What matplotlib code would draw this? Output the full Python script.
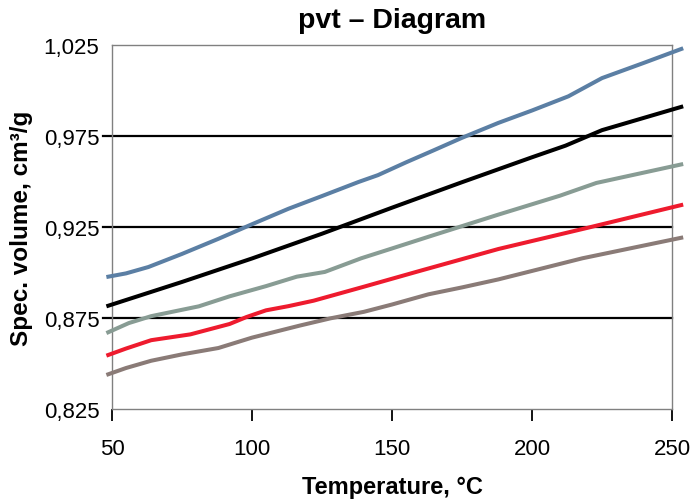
import matplotlib.pyplot as plt
from matplotlib.ticker import FuncFormatter

plt.rcParams['font.family'] = ['Liberation Sans', 'DejaVu Sans']

# Temperature (°C) / specific volume (cm³/g)
t_blue = [48, 55, 63, 75, 88, 100, 113, 125, 138, 145, 155, 165, 175, 188, 200, 213, 225, 240, 254]
v_blue = [0.8975, 0.8995, 0.9030, 0.9102, 0.9185, 0.9265, 0.9350, 0.9420, 0.9497, 0.9535,
          0.9605, 0.9672, 0.9740, 0.9822, 0.9890, 0.9968, 1.0068, 1.0152, 1.0232]

t_black = [48, 75, 100, 125, 150, 175, 200, 212, 225, 254]
v_black = [0.8814, 0.8948, 0.9077, 0.9213, 0.9356, 0.9496, 0.9633, 0.9697, 0.9782, 0.9913]

t_gray = [48, 56, 64, 81, 92, 105, 116, 126, 139, 150, 165, 188, 210, 223, 254]
v_gray = [0.8667, 0.8722, 0.8760, 0.8814, 0.8869, 0.8925, 0.8977, 0.9003, 0.9078, 0.9132,
          0.9206, 0.9318, 0.9422, 0.9492, 0.9596]

t_red = [48, 55, 64, 78, 92, 98, 105, 113, 122, 140, 160, 188, 220, 254]
v_red = [0.8543, 0.8582, 0.8628, 0.8660, 0.8717, 0.8755, 0.8792, 0.8815, 0.8845, 0.8922,
         0.9009, 0.9129, 0.9246, 0.9373]

t_brown = [48, 55, 64, 75, 88, 100, 117, 128, 140, 150, 163, 175, 188, 218, 254]
v_brown = [0.8437, 0.8475, 0.8515, 0.8550, 0.8585, 0.8642, 0.8708, 0.8748, 0.8784, 0.8824,
           0.8880, 0.8918, 0.8962, 0.9078, 0.9193]

x_ticks = [50, 100, 150, 200, 250]
y_ticks = [0.825, 0.875, 0.925, 0.975, 1.025]
grid_levels = [0.875, 0.925, 0.975]

fig = plt.figure(figsize=(6.96, 5.02), dpi=100)
ax = fig.add_axes([0.1609, 0.1833, 0.8046, 0.7251])

# horizontal reference lines, running slightly past the left spine
for lvl in grid_levels:
    ax.axhline(lvl, xmin=-0.016, xmax=1, color='black', linewidth=1.6, clip_on=False, zorder=1)

series = [
    (t_blue, v_blue, '#5b7fa4'),
    (t_black, v_black, '#000000'),
    (t_gray, v_gray, '#889c94'),
    (t_red, v_red, '#ee1b2e'),
    (t_brown, v_brown, '#8a7b77'),
]
for t, v, c in series:
    ax.plot(t, v, color=c, linewidth=2.9, clip_on=False, zorder=3,
            solid_capstyle='butt', solid_joinstyle='round')

ax.set_xlim(50, 250)
ax.set_ylim(0.825, 1.025)
ax.set_xticks(x_ticks)
ax.set_yticks(y_ticks)
ax.yaxis.set_major_formatter(FuncFormatter(lambda v, p: f'{v:.3f}'.replace('.', ',')))

ax.tick_params(axis='x', direction='out', length=8.6, width=1.3, color='black',
               pad=12, labelsize=16)
ax.tick_params(axis='y', length=0, pad=9, labelsize=16)

for side in ['left', 'right', 'top', 'bottom']:
    ax.spines[side].set_color('#808080')
    ax.spines[side].set_linewidth(1.0)

ax.set_title('pvt – Diagram', fontsize=20.5, fontweight='bold', pad=13)
ax.set_xlabel('Temperature, °C', fontsize=17, fontweight='bold', labelpad=12)
ax.set_ylabel('Spec. volume, cm³/g', fontsize=17.5, fontweight='bold', labelpad=8)

fig.savefig('out.png', dpi=100)
